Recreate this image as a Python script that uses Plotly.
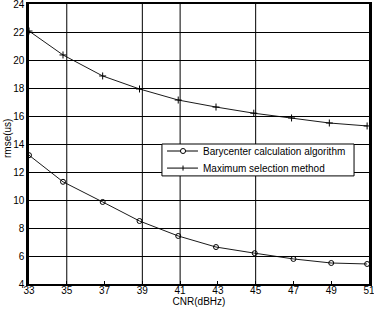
import plotly.graph_objects as go

# Data
cnr_bary = [33, 34.8, 36.9, 38.85, 40.9, 42.9, 44.95, 47.0, 49.0, 50.9]
rmse_bary = [13.2, 11.3, 9.86, 8.5, 7.43, 6.64, 6.2, 5.79, 5.5, 5.43]
cnr_max = [33, 34.8, 36.9, 38.85, 40.9, 42.9, 44.9, 46.9, 48.9, 50.9]
rmse_max = [22.07, 20.36, 18.86, 17.93, 17.14, 16.64, 16.2, 15.86, 15.5, 15.29]
x_ticks = [33, 35, 37, 39, 41, 43, 45, 47, 49, 51]
y_ticks = [4, 6, 8, 10, 12, 14, 16, 18, 20, 22, 24]
x_grid = [35, 39, 41, 45]
series_names = ["Barycenter calculation algorithm", "Maximum selection method"]
x_title = "CNR(dBHz)"
y_title = "rmse(us)"

FONT = "Liberation Sans"

fig = go.Figure()
fig.add_trace(go.Scatter(
    x=cnr_bary, y=rmse_bary, mode="lines+markers", name=series_names[0],
    line=dict(color="black", width=0.9),
    marker=dict(symbol="circle-open", size=5, color="black", line=dict(width=1)),
))
fig.add_trace(go.Scatter(
    x=cnr_max, y=rmse_max, mode="lines+markers", name=series_names[1],
    line=dict(color="black", width=0.9),
    marker=dict(symbol="cross-thin-open", size=5, color="black", line=dict(width=1, color="black")),
))

for gx in x_grid:
    fig.add_shape(type="line", xref="x", yref="paper", x0=gx, x1=gx, y0=0, y1=1,
                  line=dict(color="black", width=1), layer="below")

# Legend box drawn in paper coordinates (MATLAB-style compact legend)
LX0, LX1, LY0, LY1 = 0.391, 0.956, 0.386, 0.5
ROWS = [0.475, 0.414]
SX0, SX1, SM, TX = 0.406, 0.497, 0.453, 0.506
fig.add_shape(type="rect", xref="paper", yref="paper", x0=LX0, x1=LX1, y0=LY0, y1=LY1,
              fillcolor="white", line=dict(color="black", width=1), layer="above")
for i, (name, ry) in enumerate(zip(series_names, ROWS)):
    fig.add_shape(type="line", xref="paper", yref="paper", x0=SX0, x1=SX1, y0=ry, y1=ry,
                  line=dict(color="black", width=1), layer="above")
    if i == 0:
        fig.add_shape(type="circle", xref="paper", yref="paper",
                      x0=SM - 0.0075, x1=SM + 0.0075, y0=ry - 0.009, y1=ry + 0.009,
                      fillcolor="white", line=dict(color="black", width=1), layer="above")
    else:
        fig.add_shape(type="line", xref="paper", yref="paper", x0=SM, x1=SM,
                      y0=ry - 0.009, y1=ry + 0.009, line=dict(color="black", width=1), layer="above")
    fig.add_annotation(x=TX, y=ry, xref="paper", yref="paper", text=name, showarrow=False,
                       xanchor="left", yanchor="middle",
                       font=dict(family=FONT, size=10, color="black"))

# Y axis title placed as in the reference
fig.add_annotation(x=-0.065, y=0.521, xref="paper", yref="paper", text=y_title,
                   showarrow=False, textangle=-90, xanchor="center", yanchor="middle",
                   font=dict(family=FONT, size=10, color="black"))

fig.update_layout(
    width=374, height=311,
    margin=dict(l=29, r=5, t=4, b=27, autoexpand=False),
    paper_bgcolor="white", plot_bgcolor="white",
    font=dict(family=FONT, size=10, color="black"),
    showlegend=False,
    xaxis=dict(
        range=[33, 51], tickvals=x_ticks, ticktext=[str(v) for v in x_ticks],
        showgrid=False, zeroline=False, automargin=False,
        showline=True, linecolor="black", linewidth=2, mirror=True,
        ticks="inside", ticklen=3, tickcolor="black",
        ticklabeloverflow="allow", ticklabelstandoff=-4,
        title=dict(text=x_title, standoff=0, font=dict(size=10)),
    ),
    yaxis=dict(
        range=[4, 24], tickvals=y_ticks, ticktext=[str(v) for v in y_ticks],
        showgrid=True, gridcolor="black", gridwidth=1, zeroline=False, automargin=False,
        showline=True, linecolor="black", linewidth=2.5, mirror=True,
        ticks="inside", ticklen=3, tickcolor="black",
        ticklabeloverflow="allow",
    ),
)

fig.write_html(
    "out.html",
    config={"displayModeBar": False},
    post_script="document.body.style.margin='0';document.body.style.overflow='hidden';",
)
